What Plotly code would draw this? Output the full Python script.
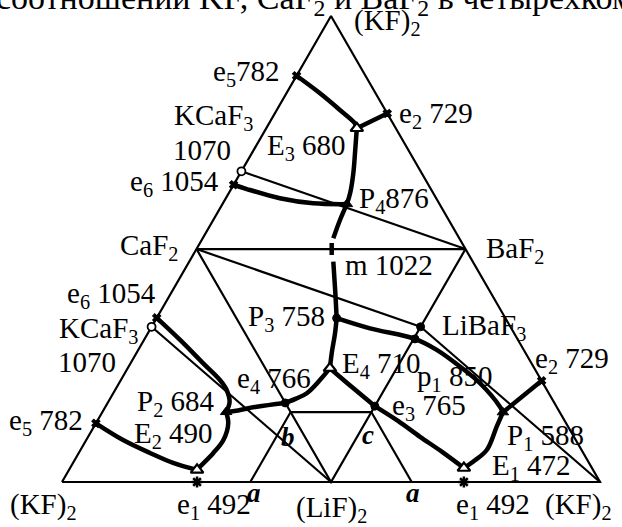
import plotly.graph_objects as go

# Unfolded K,Li,Ca,Ba||F diagram; big triangle side = 200 units
H = 173.205

# outer triangle (KF)2 - (KF)2 - (KF)2
outer_x = [0, 100, 200, 0]
outer_y = [0, H, 0, 0]
# inner triangle CaF2 - BaF2 - (LiF)2
inner_x = [50, 150, 100, 50]
inner_y = [86.6, 86.6, 0, 86.6]

# secondary joins
join_kcaf3_baf2 = ([66.7, 150], [115.5, 86.6])
join_kcaf3_lif = ([33.3, 100], [57.7, 0])
join_caf2_libaf3 = ([50, 133.3], [86.6, 57.7])
join_libaf3_kf = ([133.3, 200], [57.7, 0])
section_abc = ([70, 85, 115, 130], [0, 26, 26, 0])

# boundary (monovariant) curves
curves = [
    ([87.2, 95.9, 103.3, 108.9, 109.6], [151.0, 144.5, 138.3, 133.3, 131.5]),          # e5-E3
    ([120.9, 109.6], [137.0, 131.5]),                                                  # e2-E3
    ([109.6, 109.0, 108.3, 107.1, 105.9], [131.5, 123.4, 114.8, 107.3, 103.3]),        # E3-P4
    ([63.8, 68.7, 81.0, 93.4, 105.9], [110.5, 108.9, 105.5, 103.6, 103.3]),            # e6-P4
    ([105.9, 103.35, 100.86], [103.3, 97.4, 90.6]),                                    # P4-m
    ([100.26, 100.26], [88.85, 84.39]),                                                # m
    ([100.86, 101.3, 101.7, 102.1], [81.9, 75.1, 68.8, 60.9]),                         # m-P3
    ([102.1, 101.5, 100.26, 99.6], [60.9, 55.3, 47.84, 42.3]),                         # P3-E4
    ([99.6, 95.9, 91.0, 87.0, 83.0], [42.3, 37.9, 33.0, 31.0, 29.4]),                  # E4-e4
    ([83.0, 72.4, 65.4, 61.0], [29.4, 28.0, 26.6, 26.0]),                              # e4-P2
    ([35.2, 43.9, 52.5, 58.7, 61.2, 62.3, 61.0], [61.0, 52.8, 44.1, 37.9, 34.2, 29.7, 26.0]),  # e6-P2
    ([61.0, 61.8, 60.0, 56.2, 51.3, 50.2], [26.0, 21.8, 15.6, 10.7, 5.7, 4.5]),        # P2-E2
    ([12.6, 22.7, 32.7, 41.3, 50.2], [21.8, 15.6, 10.8, 7.1, 4.5]),                    # e5-E2
    ([99.6, 108.0, 116.3], [42.3, 35.1, 28.2]),                                        # E4-e3
    ([116.3, 124.9, 133.1, 141.3, 149.4], [28.2, 22.7, 16.8, 11.2, 5.2]),              # e3-E1
    ([102.1, 114.5, 131.2, 139.3, 147.95, 155.4, 162.8, 163.9],
     [60.9, 57.1, 53.2, 49.1, 42.9, 36.7, 28.0, 25.9]),                                # P3-p1-P1
    ([178.3, 163.9], [37.6, 25.9]),                                                    # e2-P1
    ([163.9, 161.6, 157.9, 152.8, 149.4], [25.9, 20.6, 11.9, 7.55, 5.2]),              # P1-E1
]

# invariant points
edge_e_x = [87.2, 120.9, 63.8, 35.2, 12.6, 178.3]
edge_e_y = [151.0, 137.0, 110.5, 61.0, 21.8, 37.6]
e1_x = [50.2, 149.4]
e1_y = [0, 0]
kcaf3_x = [66.7, 33.3]
kcaf3_y = [115.5, 57.7]
eut_x = [109.6, 99.6, 50.2, 149.4]
eut_y = [131.5, 42.3, 4.5, 5.2]
per_x = [105.9, 61.0, 163.9]
per_y = [103.3, 26.0, 25.9]
dot_x = [102.1, 133.3, 83.0, 116.3, 131.2]
dot_y = [60.9, 57.7, 29.4, 28.2, 53.2]

fig = go.Figure()

def thin(x, y, w=2.2):
    fig.add_trace(go.Scatter(x=x, y=y, mode="lines", line=dict(color="black", width=w),
                             hoverinfo="skip", showlegend=False))

thin(outer_x, outer_y)
thin(inner_x, inner_y)
for jx, jy in [join_kcaf3_baf2, join_kcaf3_lif, join_caf2_libaf3, join_libaf3_kf, section_abc]:
    thin(jx, jy)

for cx, cy in curves:
    fig.add_trace(go.Scatter(x=cx, y=cy, mode="lines",
                             line=dict(color="black", width=4.5, shape="spline", smoothing=1.0),
                             hoverinfo="skip", showlegend=False))

def pts(x, y, symbol, size, lw=1.5, color="black"):
    fig.add_trace(go.Scatter(x=x, y=y, mode="markers",
                             marker=dict(symbol=symbol, size=size, color=color,
                                         line=dict(color="black", width=lw)),
                             hoverinfo="skip", showlegend=False))

pts(edge_e_x, edge_e_y, "x", 7, 1.2)
pts(e1_x, e1_y, "asterisk", 9, 2.5)
pts(kcaf3_x, kcaf3_y, "circle", 8, 1.8, "white")
pts(eut_x, eut_y, "triangle-up", 11, 2.2, "white")
pts(per_x, per_y, "triangle-up", 10, 1, "black")
pts(dot_x, dot_y, "circle", 8, 1, "black")

FONT = dict(family="Liberation Serif, Times New Roman, serif", size=29, color="black")

labels = [
    ("(KF)<sub>2</sub>", 107.8, 171.0, "left"),
    ("e<sub>5</sub>782", 81.8, 152.0, "right"),
    ("KCaF<sub>3</sub>", 71.7, 135.7, "right"),
    ("1070", 63.6, 123.4, "right"),
    ("e<sub>6</sub> 1054", 59.1, 111.2, "right"),
    ("E<sub>3</sub> 680", 75.5, 124.5, "left"),
    ("e<sub>2</sub> 729", 124.5, 136.4, "left"),
    ("P<sub>4</sub>876", 109.7, 104.8, "left"),
    ("CaF<sub>2</sub>", 43.9, 87.4, "right"),
    ("BaF<sub>2</sub>", 156.9, 86.2, "left"),
    ("m 1022", 104.5, 80.7, "left"),
    ("P<sub>3</sub> 758", 98.5, 61.0, "right"),
    ("LiBaF<sub>3</sub>", 140.5, 57.6, "left"),
    ("E<sub>4</sub> 710", 103.3, 43.5, "left"),
    ("p<sub>1</sub> 850", 131.2, 38.7, "left"),
    ("e<sub>3</sub> 765", 121.9, 27.9, "left"),
    ("e<sub>2</sub> 729", 175.1, 45.4, "left"),
    ("P<sub>1</sub> 588", 164.7, 16.7, "left"),
    ("E<sub>1</sub> 472", 159.1, 5.6, "left"),
    ("e<sub>6</sub> 1054", 35.7, 69.5, "right"),
    ("KCaF<sub>3</sub>", 29.0, 56.5, "right"),
    ("1070", 20.8, 44.6, "right"),
    ("e<sub>5</sub> 782", 8.6, 22.3, "right"),
    ("P<sub>2</sub> 684", 57.6, 29.4, "right"),
    ("E<sub>2</sub> 490", 56.9, 17.5, "right"),
    ("e<sub>4</sub> 766", 64.3, 37.9, "left"),
    ("(KF)<sub>2</sub>", -6.8, -8.8, "center"),
    ("e<sub>1</sub> 492", 56.5, -8.8, "center"),
    ("(LiF)<sub>2</sub>", 100.0, -10.2, "center"),
    ("e<sub>1</sub> 492", 160.3, -8.8, "center"),
    ("(KF)<sub>2</sub>", 192.0, -8.8, "center"),
]
for text, x, y, anchor in labels:
    fig.add_annotation(x=x, y=y, text=text, showarrow=False, xanchor=anchor, yanchor="middle",
                       font=FONT)

BOLD_IT = dict(family="Liberation Serif, Times New Roman, serif", size=27, color="black")
for text, x, y in [("b", 84.0, 16.7), ("c", 113.8, 17.5), ("a", 71.5, -4.0), ("a", 130.5, -4.0)]:
    fig.add_annotation(x=x, y=y, text=f"<b><i>{text}</i></b>", showarrow=False,
                       xanchor="center", yanchor="middle", font=BOLD_IT)

# running caption line above the figure
fig.add_annotation(x=-0.01, y=1.0, xref="paper", yref="paper", xanchor="left", yanchor="middle",
                   text="соотношении KF, CaF<sub>2</sub> и BaF<sub>2</sub> в четырехкомпонентной",
                   showarrow=False, font=dict(family="Liberation Serif, serif", size=34, color="black"))

fig.update_layout(
    width=622, height=527,
    margin=dict(l=0, r=0, t=0, b=0),
    paper_bgcolor="white", plot_bgcolor="white",
    xaxis=dict(range=[-23.05, 208.18], visible=False, fixedrange=True),
    yaxis=dict(range=[-16.73, 179.18], visible=False, fixedrange=True),
    showlegend=False,
)

fig.write_html("out.html")
